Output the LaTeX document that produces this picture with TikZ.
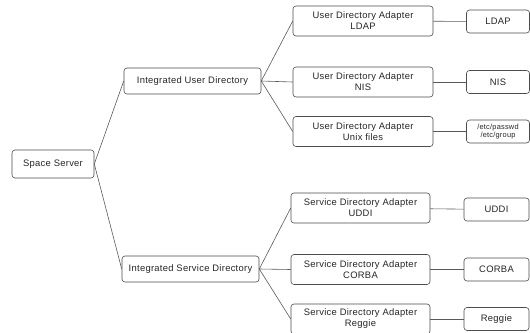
\documentclass[tikz,border=0pt]{standalone}
\usepackage{fontspec}
\setmainfont[LetterSpace=3]{Liberation Sans}
\usepackage{tikz}
\usetikzlibrary{positioning}

\begin{document}
\begin{tikzpicture}[
  x=1pt, y=-1pt,
  font=\fontsize{9.4}{11}\selectfont,
  box/.style={draw=black!70, rounded corners=3pt, fill=white, align=center,
  line width=0.6pt, inner sep=1pt, text=black!85},
  top/.style={box, minimum width=82pt, minimum height=28pt},
  mid/.style={box, minimum width=137pt, minimum height=26pt},
  adapter/.style={box, minimum width=140pt, minimum height=30pt},
  leaf/.style={box, minimum width=63pt, minimum height=23pt},
  link/.style={draw=black!65, line width=0.6pt}]
\clip (0,0) rectangle (530,332);
\useasboundingbox (0,0) rectangle (530,332);

% root and the two directories
\node[top] (server) at (53,164) {Space Server};
\node[mid] (userdir) at (192.5,81) {Integrated User Directory};
\node[mid] (servdir) at (190.5,269) {Integrated Service Directory};

% user directory adapters and their back ends
\node[adapter] (ldapad) at (363,21) {User Directory Adapter\\LDAP};
\node[adapter] (nisad) at (363,82) {User Directory Adapter\\NIS};
\node[adapter] (unixad) at (363,131.5) {User Directory Adapter\\Unix files};
\node[leaf] (ldap) at (498,21.5) {LDAP};
\node[leaf] (nis) at (498,82) {NIS};
\node[leaf, font=\fontsize{7.4}{8.6}\selectfont] (files) at (498,131.5) {/etc/passwd\\/etc/group};

% service directory adapters and their back ends
\node[adapter, minimum width=139pt] (uddiad) at (360.5,208) {Service Directory Adapter\\UDDI};
\node[adapter, minimum width=139pt] (corbaad) at (360.5,269.5) {Service Directory Adapter\\CORBA};
\node[adapter, minimum width=139pt] (reggiead) at (360.5,319) {Service Directory Adapter\\Reggie};
\node[leaf, minimum width=65pt] (uddi) at (496.5,209.5) {UDDI};
\node[leaf, minimum width=65pt] (corba) at (496.5,269.5) {CORBA};
\node[leaf, minimum width=65pt] (reggie) at (496.5,319) {Reggie};

% tree links
\path[link] (server.east) -- (userdir.west);
\path[link] (server.east) -- (servdir.west);
\path[link] (userdir.east) -- (ldapad.west);
\path[link] (userdir.east) -- (nisad.west);
\path[link] (userdir.east) -- (unixad.west);
\path[link] (servdir.east) -- (uddiad.west);
\path[link] (servdir.east) -- (corbaad.west);
\path[link] (servdir.east) -- (reggiead.west);
\path[link] (ldapad) -- (ldap);
\path[link] (nisad) -- (nis);
\path[link] (unixad) -- (files);
\path[link] (uddiad) -- (uddi);
\path[link] (corbaad) -- (corba);
\path[link] (reggiead) -- (reggie);
\end{tikzpicture}
\end{document}
